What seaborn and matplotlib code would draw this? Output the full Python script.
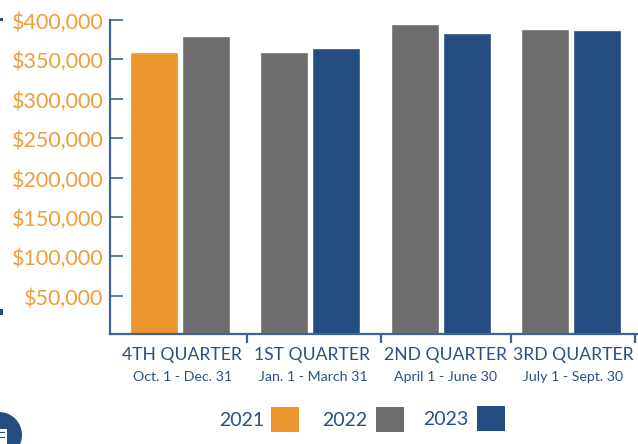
import matplotlib
matplotlib.use("Agg")
import matplotlib.pyplot as plt
from matplotlib.patches import Rectangle, Circle
from matplotlib.transforms import ScaledTranslation
import pandas as pd
import seaborn as sns

quarters = ["4TH QUARTER", "1ST QUARTER", "2ND QUARTER", "3RD QUARTER"]
date_ranges = ["Oct. 1 - Dec. 31", "Jan. 1 - March 31", "April 1 - June 30", "July 1 - Sept. 30"]
first_years = ["2021", "2022", "2022", "2022"]
first_values = [359000, 360000, 394500, 389000]
second_years = ["2022", "2023", "2023", "2023"]
second_values = [379500, 365000, 384000, 387000]
year_labels = ["2021", "2022", "2023"]
year_colors = ["#EC962D", "#6D6D6D", "#244C80"]
y_ticks = [50000, 100000, 150000, 200000, 250000, 300000, 350000, 400000]

BLUE = "#2B5085"
AXIS = "#3F6393"
ORANGE = "#EE9E3C"
W, H = 638, 444

sns.set_theme(style="white")
plt.rcParams["font.family"] = ["Lato", "DejaVu Sans"]

rows = []
for i in range(len(quarters)):
    rows.append({"pos": i - 0.2, "year": first_years[i], "value": first_values[i]})
    rows.append({"pos": i + 0.2, "year": second_years[i], "value": second_values[i]})
sales = pd.DataFrame(rows)

fig = plt.figure(figsize=(W / 100, H / 100), dpi=100)
ax = fig.add_axes([110 / W, 1 - 333.5 / H, 527 / W, 313.5 / H])

sns.barplot(
    data=sales, x="pos", y="value", hue="year",
    hue_order=year_labels, palette=dict(zip(year_labels, year_colors)),
    native_scale=True, dodge=False, width=0.92, legend=False, ax=ax, saturation=1,
)

ax.set_xlim(-0.535, 3.505)
ax.set_ylim(2000, 400000)
ax.set_xlabel("")
ax.set_ylabel("")

for side in ("top", "right"):
    ax.spines[side].set_visible(False)
for side in ("left", "bottom"):
    ax.spines[side].set_color(AXIS)
    ax.spines[side].set_linewidth(1.6)

ax.set_yticks(y_ticks)
ax.set_yticklabels([f"${v:,}" for v in y_ticks], color=ORANGE, fontsize=15.5)
ax.tick_params(axis="y", direction="in", length=9.5, width=1.2, color=AXIS, pad=4.5, left=True)
nudge = ScaledTranslation(0, -1 / 100, fig.dpi_scale_trans)
for tick_label in ax.get_yticklabels():
    tick_label.set_transform(tick_label.get_transform() + nudge)

# Dividers between quarters hang below the baseline
ax.set_xticks([0.517, 1.544, 2.54, 3.49])
ax.set_xticklabels([])
ax.tick_params(axis="x", direction="out", length=6.5, width=1.6, color=AXIS, bottom=True)

# Two-line quarter captions, centred by pixel under each group
caption_centers = [182, 312.5, 445, 573.5]
date_centers = [182.5, 313, 445, 573.5]
for q, d, qx, dx in zip(quarters, date_ranges, caption_centers, date_centers):
    fig.text(qx / W, 1 - 360 / H, q, ha="center", va="baseline", color=BLUE, fontsize=12.6)
    fig.text(dx / W, 1 - 381 / H, d, ha="center", va="baseline", color=BLUE, fontsize=10.2)

# Year key under the chart, placed in pixel units
key_text_right = [264, 367, 468]
key_left = [271, 376, 477]
key_top = [407, 407, 406]
for label, color, tr, kl, kt in zip(year_labels, year_colors, key_text_right, key_left, key_top):
    fig.add_artist(Rectangle((kl / W, 1 - (kt + 25) / H), 28 / W, 25 / H, transform=fig.transFigure,
                             facecolor=color, edgecolor="none"))
    fig.text(tr / W, 1 - (kt + 13) / H, label, ha="right", va="center", color=BLUE, fontsize=14)

# Cropped badge in the lower-left corner with its clipboard glyph
fig.add_artist(Circle((-1, H - 435), 23, transform=None, facecolor="#244C80", edgecolor="none"))
fig.add_artist(Rectangle((0, 0), 7 / W, 15 / H, transform=fig.transFigure, facecolor="white", edgecolor="none"))
for top in (433, 438):
    fig.add_artist(Rectangle((0, 1 - top / H), 5 / W, 1.5 / H, transform=fig.transFigure,
                             facecolor="#244C80", edgecolor="none"))

# Small cropped marks on the left edge
fig.add_artist(Rectangle((0, 1 - 21 / H), 3 / W, 3 / H, transform=fig.transFigure, facecolor="#244C80", edgecolor="none"))
fig.add_artist(Rectangle((0, 1 - 315 / H), 3 / W, 6 / H, transform=fig.transFigure, facecolor="#244C80", edgecolor="none"))

fig.savefig("out.png", dpi=100)
